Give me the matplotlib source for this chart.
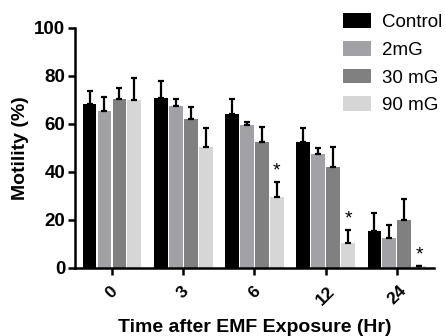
import numpy as np
import matplotlib.pyplot as plt

plt.rcParams['font.family'] = ['Liberation Sans', 'DejaVu Sans']

# data
times = ['0', '3', '6', '12', '24']
groups = ['Control', '2mG', '30 mG', '90 mG']
colors = ['#000000', '#a2a2a6', '#808080', '#d6d6d6']

control = [68.2, 70.8, 64.3, 52.7, 15.5]
mg2 = [65.3, 67.4, 59.6, 47.7, 12.5]
mg30 = [70.6, 62.0, 52.6, 41.9, 19.9]
mg90 = [70.2, 50.3, 29.7, 10.4, 0.8]

err_control = [5.6, 7.2, 6.1, 5.8, 7.4]
err_2mg = [5.8, 3.0, 1.2, 2.2, 5.5]
err_30mg = [4.3, 4.9, 6.1, 8.6, 9.0]
err_90mg = [9.0, 8.0, 6.3, 5.3, 0.0]

# significance markers (group index, series index)
stars = [(2, 3), (3, 3), (4, 3)]

values = [control, mg2, mg30, mg90]
errors = [err_control, err_2mg, err_30mg, err_90mg]

fig = plt.figure(figsize=(4.46, 3.36), dpi=100)
ax = fig.add_axes([0.168, 0.2024, 0.805, 0.7143])

x = np.arange(len(times))
pitch = 0.21
width = 0.195
for i in range(len(groups)):
    pos = x + (i - 1.5) * pitch
    ax.bar(pos, values[i], width, color=colors[i], label=groups[i], zorder=2)
    ax.errorbar(pos, values[i], yerr=[np.zeros(len(times)), errors[i]], fmt='none',
                ecolor='black', elinewidth=1.6, capsize=2.5, capthick=1.6, zorder=3)

for g, s in stars:
    xp = x[g] + (s - 1.5) * pitch
    yp = values[s][g] + errors[s][g] + 1.0
    ax.text(xp, yp, '*', ha='center', va='bottom', fontsize=14, color='black')

ax.set_xlim(-0.52, 4.52)
ax.set_ylim(0, 100)
ax.set_yticks([0, 20, 40, 60, 80, 100])
ax.set_xticks(x)
ax.set_xticklabels(times, rotation=45, ha='center', fontweight='bold', fontsize=12.5)
for lab in ax.get_yticklabels():
    lab.set_fontweight('bold')
    lab.set_fontsize(13.5)

for side in ['top', 'right']:
    ax.spines[side].set_visible(False)
for side in ['left', 'bottom']:
    ax.spines[side].set_linewidth(1.8)
ax.tick_params(width=1.8, length=5, pad=2)
ax.tick_params(axis='x', pad=6)

ax.set_ylabel('Motility (%)', fontweight='bold', fontsize=14, labelpad=4)
ax.set_xlabel('Time after EMF Exposure (Hr)', fontweight='bold', fontsize=14, labelpad=8)

leg = ax.legend(loc='upper left', bbox_to_anchor=(0.768, 0.961), bbox_transform=fig.transFigure,
                frameon=False, fontsize=13.5, handlelength=1.5, handleheight=0.85,
                labelspacing=0.52, handletextpad=0.6, borderaxespad=0, borderpad=0)

fig.savefig('out.png', dpi=100)
